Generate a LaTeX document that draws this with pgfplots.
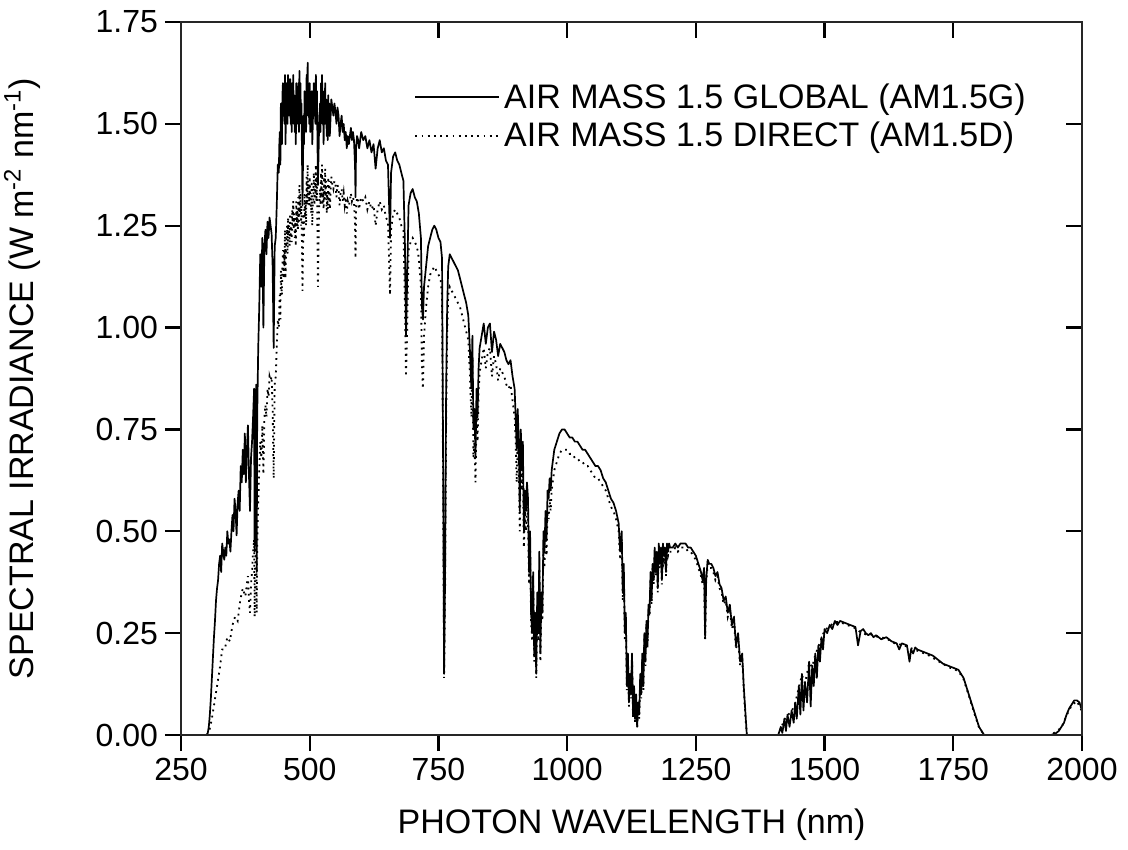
\documentclass[border=0pt]{standalone}
\usepackage{pgfplots}
\pgfplotsset{compat=1.18}
\usepackage{pgfplotstable}
\usepackage{fontspec}
\setmainfont{Liberation Sans}

\pgfplotstableread{
x y
300 0.00
302 0.005
304 0.02
306 0.05
308 0.09
310 0.14
312 0.19
314 0.24
316 0.28
318 0.33
320 0.36
322 0.38
324 0.42
326 0.44
328 0.40
330 0.47
332 0.45
334 0.43
336 0.46
338 0.44
340 0.50
342 0.47
344 0.48
346 0.45
348 0.50
350 0.54
352 0.50
354 0.58
356 0.55
358 0.49
360 0.57
362 0.60
364 0.55
366 0.66
368 0.62
370 0.70
372 0.64
374 0.74
376 0.62
378 0.70
380 0.76
382 0.64
384 0.55
386 0.68
388 0.72
390 0.78
392 0.85
393 0.45
394 0.70
396 0.86
397 0.40
398 0.78
400 0.95
402 1.05
404 1.18
406 1.10
408 1.22
410 1.00
412 1.20
414 1.24
416 1.18
418 1.26
420 1.22
422 1.27
424 1.25
426 1.23
428 1.15
430 0.95
432 1.20
434 1.22
436 1.30
438 1.40
440 1.38
441 1.45
442 1.48
443 1.40
444 1.55
445 1.50
446 1.45
447 1.57
448 1.60
449 1.52
450 1.58
451 1.50
452 1.62
453 1.45
454 1.55
455 1.60
456 1.60
457 1.50
458 1.62
459 1.55
460 1.58
461 1.52
462 1.61
463 1.50
464 1.56
465 1.48
466 1.60
467 1.52
468 1.62
469 1.50
470 1.57
471 1.48
472 1.54
473 1.45
474 1.60
475 1.52
476 1.56
477 1.50
478 1.60
479 1.48
480 1.63
481 1.55
482 1.60
483 1.50
484 1.55
486 1.30
488 1.52
489 1.45
490 1.58
491 1.50
492 1.55
493 1.48
494 1.62
495 1.55
496 1.65
497 1.52
498 1.58
499 1.50
500 1.60
501 1.48
502 1.55
503 1.50
504 1.58
505 1.45
506 1.50
507 1.56
508 1.60
509 1.52
510 1.57
511 1.50
512 1.62
513 1.50
514 1.58
516 1.35
518 1.48
520 1.55
521 1.48
522 1.60
523 1.52
524 1.62
525 1.50
526 1.54
527 1.45
528 1.58
529 1.50
530 1.60
531 1.50
532 1.56
533 1.47
534 1.52
535 1.46
536 1.57
537 1.48
538 1.55
539 1.47
540 1.50
542 1.56
544 1.54
546 1.52
548 1.55
550 1.53
552 1.50
554 1.54
556 1.52
558 1.47
560 1.50
562 1.52
564 1.48
566 1.50
568 1.46
570 1.48
572 1.44
574 1.47
576 1.45
578 1.47
580 1.49
582 1.46
584 1.48
586 1.46
588 1.40
589 1.32
590 1.44
592 1.47
594 1.46
596 1.44
598 1.46
600 1.48
604 1.46
608 1.47
612 1.44
616 1.46
620 1.43
624 1.45
628 1.39
632 1.44
636 1.46
640 1.43
644 1.44
648 1.41
652 1.40
656 1.22
658 1.38
662 1.42
666 1.43
670 1.41
674 1.40
678 1.38
682 1.36
685 1.20
687 0.98
689 1.10
692 1.30
696 1.33
700 1.34
704 1.32
708 1.31
712 1.28
716 1.22
718 1.05
720 1.02
722 1.10
726 1.15
730 1.20
734 1.22
738 1.24
742 1.25
746 1.24
750 1.22
754 1.21
757 1.17
759 0.70
761 0.15
763 0.40
765 0.85
767 1.05
769 1.15
772 1.18
776 1.17
780 1.16
784 1.15
788 1.14
792 1.12
796 1.10
800 1.08
804 1.06
808 1.03
811 0.95
814 0.85
816 0.98
818 0.75
820 0.80
822 0.68
824 0.85
826 0.78
828 0.90
830 0.95
834 0.98
838 1.01
842 0.96
846 1.00
850 1.01
854 0.94
858 0.99
862 0.97
866 0.93
870 0.96
874 0.95
878 0.94
882 0.92
886 0.91
890 0.92
894 0.88
898 0.85
900 0.78
902 0.70
904 0.80
906 0.72
908 0.55
910 0.75
912 0.65
914 0.72
916 0.50
918 0.60
920 0.55
922 0.62
924 0.58
926 0.40
928 0.50
930 0.30
932 0.25
934 0.40
936 0.20
938 0.30
940 0.15
942 0.35
944 0.25
946 0.45
948 0.20
950 0.35
952 0.30
954 0.50
956 0.45
958 0.55
960 0.48
962 0.60
964 0.58
966 0.63
968 0.60
970 0.65
975 0.70
980 0.72
985 0.74
990 0.75
995 0.75
1000 0.74
1005 0.73
1010 0.73
1015 0.72
1020 0.72
1025 0.71
1030 0.70
1035 0.70
1040 0.69
1045 0.68
1050 0.67
1055 0.66
1060 0.66
1065 0.65
1070 0.63
1075 0.62
1080 0.60
1085 0.58
1090 0.57
1095 0.55
1100 0.52
1103 0.45
1106 0.50
1108 0.35
1110 0.42
1112 0.25
1114 0.30
1116 0.12
1118 0.20
1120 0.08
1122 0.15
1124 0.10
1126 0.20
1128 0.05
1130 0.12
1132 0.04
1134 0.10
1136 0.02
1138 0.08
1140 0.05
1142 0.15
1144 0.10
1146 0.20
1148 0.12
1150 0.25
1152 0.18
1154 0.28
1156 0.22
1158 0.32
1160 0.30
1162 0.40
1164 0.33
1166 0.42
1168 0.38
1170 0.46
1172 0.40
1174 0.45
1176 0.36
1178 0.47
1180 0.42
1182 0.46
1184 0.38
1186 0.47
1188 0.44
1190 0.46
1192 0.40
1194 0.47
1196 0.45
1198 0.47
1200 0.46
1205 0.46
1210 0.47
1215 0.46
1220 0.47
1225 0.47
1230 0.47
1235 0.46
1240 0.46
1245 0.45
1250 0.44
1255 0.42
1260 0.40
1263 0.38
1266 0.41
1268 0.24
1270 0.38
1273 0.43
1276 0.42
1280 0.42
1284 0.41
1288 0.39
1292 0.40
1296 0.37
1300 0.36
1304 0.33
1308 0.34
1312 0.30
1316 0.32
1320 0.27
1324 0.29
1328 0.22
1332 0.25
1336 0.18
1340 0.20
1343 0.12
1346 0.06
1349 0.0
1360 0.0
1400 0.0
1410 0.0
1415 0.02
1418 0.005
1422 0.04
1425 0.01
1428 0.05
1432 0.02
1436 0.06
1440 0.03
1443 0.08
1446 0.04
1450 0.12
1453 0.05
1456 0.15
1459 0.06
1462 0.13
1466 0.08
1470 0.18
1473 0.07
1476 0.17
1479 0.12
1482 0.20
1485 0.14
1488 0.22
1491 0.18
1494 0.24
1497 0.21
1500 0.26
1505 0.25
1510 0.27
1515 0.26
1520 0.28
1525 0.27
1530 0.28
1540 0.275
1550 0.27
1560 0.265
1565 0.22
1570 0.255
1575 0.26
1580 0.25
1585 0.245
1590 0.25
1595 0.24
1600 0.245
1605 0.24
1610 0.235
1620 0.24
1630 0.23
1640 0.225
1645 0.21
1650 0.225
1660 0.22
1665 0.18
1668 0.21
1672 0.20
1676 0.215
1680 0.21
1690 0.205
1700 0.20
1710 0.195
1720 0.185
1730 0.175
1740 0.17
1750 0.165
1760 0.16
1765 0.15
1770 0.14
1775 0.12
1780 0.10
1785 0.08
1790 0.06
1795 0.04
1800 0.02
1805 0.01
1810 0.0
1940 0.0
1950 0.005
1955 0.01
1960 0.02
1965 0.03
1970 0.05
1975 0.065
1980 0.075
1985 0.085
1990 0.085
1995 0.08
2000 0.06
}\globaldata

\pgfplotstableread{
x y
300 0.0
305 0.01
310 0.04
315 0.08
320 0.12
325 0.16
330 0.21
335 0.21
340 0.24
345 0.23
350 0.27
355 0.29
360 0.28
365 0.33
370 0.36
375 0.34
380 0.39
382 0.33
384 0.30
386 0.37
388 0.40
390 0.45
392 0.48
393 0.29
394 0.42
396 0.50
397 0.30
398 0.46
400 0.57
402 0.65
404 0.72
406 0.68
408 0.76
410 0.64
412 0.78
414 0.81
416 0.78
418 0.85
420 0.83
422 0.88
424 0.87
426 0.88
428 0.80
430 0.63
432 0.86
434 0.88
436 0.95
438 1.02
440 1.00
441 1.05
442 1.08
443 1.02
444 1.14
445 1.10
446 1.08
447 1.15
448 1.19
449 1.12
450 1.19
451 1.15
452 1.24
453 1.12
454 1.19
455 1.22
456 1.25
457 1.18
458 1.27
459 1.22
460 1.25
461 1.20
462 1.28
463 1.22
464 1.25
465 1.21
466 1.29
467 1.25
468 1.31
469 1.24
470 1.28
471 1.22
472 1.26
473 1.20
474 1.31
475 1.25
476 1.29
477 1.24
478 1.32
479 1.26
480 1.35
481 1.28
482 1.33
483 1.25
484 1.30
486 1.09
488 1.28
489 1.22
490 1.33
491 1.27
492 1.31
493 1.25
494 1.37
495 1.30
496 1.40
497 1.32
498 1.35
499 1.30
500 1.37
501 1.30
502 1.33
503 1.28
504 1.36
505 1.25
506 1.30
507 1.31
508 1.38
509 1.30
510 1.36
511 1.32
512 1.40
513 1.31
514 1.37
516 1.10
518 1.28
520 1.34
521 1.30
522 1.38
523 1.32
524 1.40
525 1.30
526 1.34
527 1.29
528 1.37
529 1.31
530 1.39
531 1.32
532 1.36
533 1.28
534 1.33
535 1.29
536 1.37
537 1.30
538 1.36
539 1.29
540 1.32
542 1.37
544 1.35
546 1.34
548 1.36
550 1.35
552 1.32
554 1.35
556 1.34
558 1.30
560 1.33
562 1.34
564 1.31
566 1.33
568 1.30
570 1.32
572 1.28
574 1.31
576 1.30
578 1.31
580 1.33
582 1.31
584 1.32
586 1.31
588 1.25
589 1.17
590 1.29
592 1.32
594 1.31
596 1.29
598 1.31
600 1.32
604 1.31
608 1.32
612 1.29
616 1.31
620 1.29
624 1.30
628 1.25
632 1.29
636 1.31
640 1.29
644 1.30
648 1.27
652 1.26
656 1.08
658 1.24
662 1.28
666 1.29
670 1.28
674 1.27
678 1.25
682 1.24
685 1.05
687 0.88
689 0.98
692 1.19
696 1.21
700 1.22
704 1.21
708 1.20
712 1.17
716 1.10
718 0.90
720 0.85
722 0.98
726 1.05
730 1.10
734 1.13
738 1.14
742 1.15
746 1.14
750 1.13
754 1.12
757 1.08
759 0.65
761 0.14
763 0.37
765 0.78
767 0.98
769 1.08
772 1.10
776 1.09
780 1.08
784 1.07
788 1.06
792 1.05
796 1.03
800 1.01
804 0.99
808 0.97
811 0.89
814 0.78
816 0.92
818 0.68
820 0.72
822 0.62
824 0.78
826 0.72
828 0.84
830 0.89
834 0.92
838 0.95
842 0.90
846 0.94
850 0.95
854 0.88
858 0.93
862 0.91
866 0.87
870 0.90
874 0.89
878 0.88
882 0.86
886 0.85
890 0.86
894 0.82
898 0.78
900 0.72
902 0.62
904 0.74
906 0.66
908 0.50
910 0.69
912 0.60
914 0.66
916 0.46
918 0.55
920 0.50
922 0.57
924 0.53
926 0.37
928 0.46
930 0.28
932 0.23
934 0.37
936 0.18
938 0.28
940 0.14
942 0.32
944 0.23
946 0.41
948 0.18
950 0.32
952 0.28
954 0.46
956 0.41
958 0.50
960 0.44
962 0.55
964 0.53
966 0.58
968 0.55
970 0.60
975 0.65
980 0.67
985 0.69
990 0.70
995 0.70
1000 0.70
1005 0.69
1010 0.69
1015 0.68
1020 0.68
1025 0.67
1030 0.67
1035 0.66
1040 0.66
1045 0.65
1050 0.64
1055 0.63
1060 0.63
1065 0.62
1070 0.61
1075 0.60
1080 0.58
1085 0.56
1090 0.55
1095 0.53
1100 0.50
1103 0.43
1106 0.48
1108 0.33
1110 0.40
1112 0.23
1114 0.28
1116 0.11
1118 0.19
1120 0.07
1122 0.14
1124 0.09
1126 0.19
1128 0.04
1130 0.11
1132 0.03
1134 0.09
1136 0.02
1138 0.07
1140 0.04
1142 0.14
1144 0.09
1146 0.19
1148 0.11
1150 0.24
1152 0.17
1154 0.27
1156 0.21
1158 0.31
1160 0.29
1162 0.38
1164 0.32
1166 0.41
1168 0.37
1170 0.44
1172 0.39
1174 0.44
1176 0.35
1178 0.45
1180 0.41
1182 0.45
1184 0.37
1186 0.46
1188 0.43
1190 0.45
1192 0.39
1194 0.46
1196 0.44
1198 0.45
1200 0.45
1205 0.45
1210 0.46
1215 0.45
1220 0.46
1225 0.46
1230 0.46
1235 0.45
1240 0.45
1245 0.44
1250 0.43
1255 0.41
1260 0.39
1263 0.37
1266 0.40
1268 0.23
1270 0.37
1273 0.42
1276 0.41
1280 0.41
1284 0.40
1288 0.38
1292 0.39
1296 0.36
1300 0.35
1304 0.32
1308 0.33
1312 0.29
1316 0.31
1320 0.26
1324 0.28
1328 0.21
1332 0.24
1336 0.17
1340 0.19
1343 0.11
1346 0.05
1349 0.0
1410 0.0
1422 0.038
1428 0.048
1436 0.058
1443 0.078
1450 0.117
1456 0.147
1462 0.127
1470 0.177
1476 0.167
1482 0.197
1488 0.217
1494 0.237
1500 0.257
1510 0.267
1520 0.277
1530 0.277
1550 0.267
1560 0.262
1570 0.252
1580 0.247
1590 0.247
1600 0.242
1620 0.237
1640 0.222
1650 0.222
1660 0.217
1680 0.207
1700 0.197
1720 0.182
1740 0.167
1760 0.157
1770 0.137
1780 0.097
1790 0.057
1800 0.018
1810 0.0
1940 0.0
1960 0.018
1970 0.048
1980 0.073
1990 0.083
2000 0.058
}\directdata

\begin{document}
\begin{tikzpicture}
\useasboundingbox (-90.5bp,-57.5bp) rectangle (473.5bp,367.5bp);
\pgfplotsset{
  common/.style={
    at={(0,0)}, anchor=south west,
    scale only axis, width=450.5bp, height=356.5bp,
    xmin=250, xmax=2000, ymin=0, ymax=1.75,
    xtick={250,500,750,1000,1250,1500,1750,2000},
    ytick={0,0.25,0.5,0.75,1,1.25,1.5,1.75},
    axis line style={line width=1.3bp, black!85},
    major tick style={line width=1.1bp, black},
    major tick length=8bp,
  }
}
\begin{axis}[common,
    xtick pos=left, ytick pos=left, tick align=outside,
    xticklabels={250,500,750,1000,1250,1500,1750,2000},
    yticklabels={0.00,0.25,0.50,0.75,1.00,1.25,1.50,1.75},
    tick label style={font=\fontsize{16bp}{19bp}\selectfont},
    xlabel={PHOTON WAVELENGTH (nm)},
    ylabel={SPECTRAL IRRADIANCE (W m\textsuperscript{-2} nm\textsuperscript{-1})},
    label style={font=\fontsize{17bp}{20bp}\selectfont},
    xlabel style={at={(axis description cs:0.5,-0.1262)}, anchor=center},
    ylabel style={at={(axis description cs:-0.1765,0.5)}, anchor=center},
    legend style={at={(axis description cs:0.2586,0.92)}, anchor=north west,
      draw=none, fill=none, inner sep=0pt,
      font=\fontsize{17bp}{20bp}\selectfont, row sep=1.5bp},
    legend cell align=left,
    legend image code/.code={\draw[#1] (0bp,0bp) -- (42bp,0bp);},
  ]
\addplot[black, line width=0.85bp, line join=round] table[x=x,y=y] {\globaldata};
\addlegendentry{AIR MASS 1.5 GLOBAL (AM1.5G)}
\addplot[black, line width=0.9bp, dash pattern=on 0.9bp off 2.2bp] table[x=x,y=y] {\directdata};
\addlegendentry{AIR MASS 1.5 DIRECT (AM1.5D)}
\end{axis}
\begin{axis}[common,
    xtick pos=right, ytick pos=right, tick align=inside,
    xticklabels={}, yticklabels={},
  ]
\end{axis}
\end{tikzpicture}
\end{document}
